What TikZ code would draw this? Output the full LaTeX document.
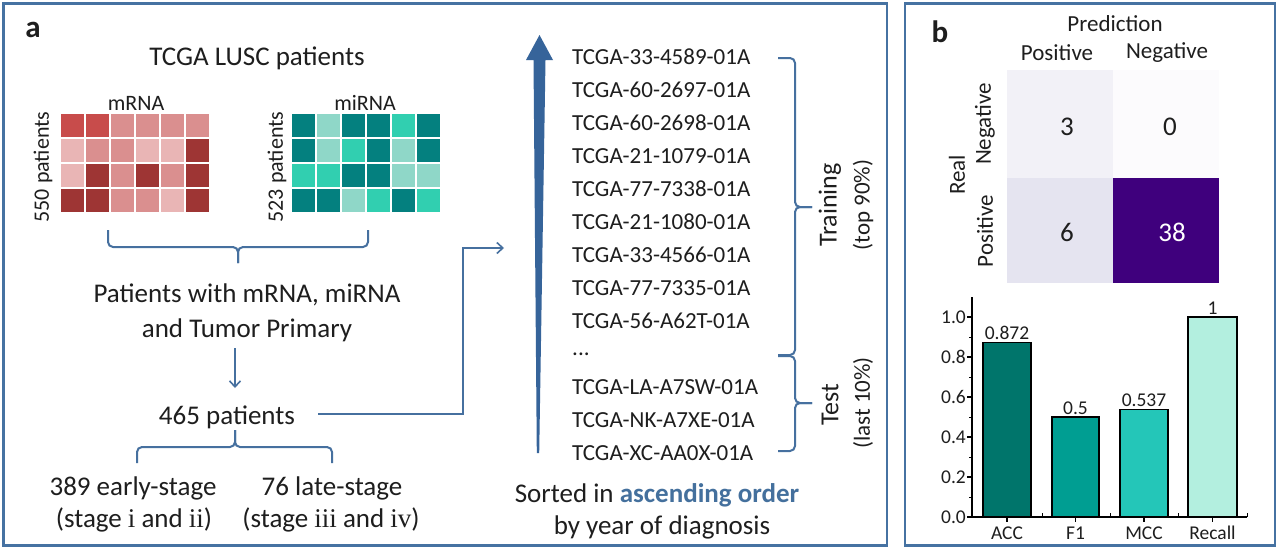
\documentclass[tikz,border=0pt]{standalone}
\usepackage{fontspec}
\setmainfont{Carlito}
\newfontfamily\romfont{Liberation Serif}
\usetikzlibrary{arrows.meta}
\definecolor{framec}{HTML}{4672A2}
\definecolor{linec}{HTML}{46709F}
\definecolor{bigarrow}{HTML}{36649A}
\definecolor{ink}{HTML}{1E1E1E}
\definecolor{bluetxt}{HTML}{44709D}
\definecolor{mC}{HTML}{C84C4B}
\definecolor{mM}{HTML}{DA8F8F}
\definecolor{mL}{HTML}{E9B5B5}
\definecolor{mD}{HTML}{9E3534}
\definecolor{tD}{HTML}{04807F}
\definecolor{tL}{HTML}{8FD7C8}
\definecolor{tT}{HTML}{31CFB0}
\definecolor{cmTL}{HTML}{F2F1F7}
\definecolor{cmTR}{HTML}{FCFBFD}
\definecolor{cmBL}{HTML}{E5E4F0}
\definecolor{cmBR}{HTML}{3F007D}
\definecolor{barA}{HTML}{00756B}
\definecolor{barB}{HTML}{009E92}
\definecolor{barC}{HTML}{24C6B8}
\definecolor{barD}{HTML}{B3EFDF}
\begin{document}
\begin{tikzpicture}[x=1pt,y=-1pt,
  txt/.style={inner sep=0pt, text=ink},
  fbig/.style={font=\fontsize{27}{32}\selectfont},
  fmid/.style={font=\fontsize{23}{28}\selectfont},
  fsmall/.style={font=\fontsize{22}{26}\selectfont},
  ftick/.style={font=\fontsize{19.5}{23}\selectfont},
  flabel/.style={font=\fontsize{31}{36}\selectfont\bfseries},
  panelframe/.style={draw=framec, line width=2.6pt},
  bracec/.style={draw=linec, line width=2pt, rounded corners=5pt},
  flow/.style={draw=linec, line width=2pt, -{Straight Barb[length=6pt,width=11pt,line width=1.6pt]}},
  bar/.style={draw=black, line width=1.3pt},
  axisl/.style={draw=black, line width=1.3pt}
]
\useasboundingbox (0,0) rectangle (1280,552);
\fill[white] (0,0) rectangle (1280,552);

% ---------- panel frames
\draw[panelframe] (3.5,3.5) rectangle (887,545.5);
\draw[panelframe] (905,3.5) rectangle (1275,545.5);
\node[txt, flabel] (la) at (33,30) {a};
\node[txt, flabel] (lb) at (940,32) {b};

% ---------- panel a, left part
\node[txt, fbig] (title) at (257,58) {TCGA LUSC patients};
\node[txt, fsmall] (mrnalab) at (136,103) {mRNA};
\node[txt, fsmall] (mirnalab) at (365,103) {miRNA};
\node[txt, fsmall, rotate=90] (p550) at (43,167) {550 patients};
\node[txt, fsmall, rotate=90] (p523) at (277,167) {523 patients};

\foreach \row [count=\r from 0] in {{C,C,M,M,M,M},{L,M,M,L,L,D},{L,D,M,D,M,D},{D,D,M,M,L,D}} {
  \foreach \c [count=\k from 0] in \row {
    \fill[m\c] (60+25*\k+1, 113+25*\r+1) rectangle ++(23,23);
  }
}
\foreach \row [count=\r from 0] in {{D,L,D,D,T,D},{D,L,T,D,L,D},{T,T,D,D,L,L},{D,D,L,T,D,T}} {
  \foreach \c [count=\k from 0] in \row {
    \fill[t\c] (291+25*\k+1, 113+25*\r+1) rectangle ++(23,23);
  }
}

% brace under heatmaps
\coordinate (b1l) at (108,230);
\coordinate (b1r) at (368,230);
\coordinate (b1m) at (238,247);
\coordinate (b1t) at (238,263);
\draw[bracec] (b1l) |- (b1m) -- (b1t);
\draw[bracec] (b1r) |- (b1m) -- (b1t);

\node[txt, fbig] (pw1) at (247,295) {Patients with mRNA, miRNA};
\node[txt, fbig] (pw2) at (247,330) {and Tumor Primary};

\coordinate (d1) at (235,348);
\coordinate (d2) at (235,388);
\draw[flow] (d1) -- (d2);

\node[txt, fbig] (n465) at (227,417) {465 patients};

% brace under 465
\coordinate (b2t) at (235,430);
\coordinate (b2m) at (235,447);
\coordinate (b2l) at (137,463);
\coordinate (b2r) at (332,463);
\draw[bracec] (b2t) -- (b2m) -| (b2l);
\draw[bracec] (b2t) -- (b2m) -| (b2r);

\node[txt, fbig] (early1) at (133,488) {389 early-stage};
\node[txt, fbig] (early2) at (134,520) {(stage {\romfont i} and {\romfont ii})};
\node[txt, fbig] (late1) at (332,488) {76 late-stage};
\node[txt, fbig] (late2) at (331,520) {(stage {\romfont iii} and {\romfont iv})};

% connector 465 -> list
\coordinate (c0) at (318,414);
\coordinate (c1) at (463,248);
\coordinate (c2) at (504,248);
\draw[flow] (c0) -| (c1) -- (c2);

% big tapered arrow
\fill[bigarrow] (536.8,453) -- (539.2,453) -- (545.5,60) -- (553,60) -- (539.5,35) -- (526,60) -- (533.5,60) -- cycle;

% ---------- ID list
\foreach \id [count=\i from 0] in {TCGA-33-4589-01A,TCGA-60-2697-01A,TCGA-60-2698-01A,TCGA-21-1079-01A,TCGA-77-7338-01A,TCGA-21-1080-01A,TCGA-33-4566-01A,TCGA-77-7335-01A,TCGA-56-A62T-01A} {
  \node[txt, fmid, anchor=west] (id\i) at (572,57+33*\i) {\id};
}
\node[txt, fmid, anchor=west] (iddots) at (572,354) {...};
\foreach \id [count=\i from 10] in {TCGA-LA-A7SW-01A,TCGA-NK-A7XE-01A,TCGA-XC-AA0X-01A} {
  \node[txt, fmid, anchor=west] (id\i) at (572,57+33*\i) {\id};
}

% braces training / test
\coordinate (trt) at (778,58);
\coordinate (trb) at (778,355);
\coordinate (trm) at (795,207);
\coordinate (trtip) at (812,207);
\draw[bracec] (trt) -| (trm) -- (trtip);
\draw[bracec] (trb) -| (trm) -- (trtip);
\coordinate (tet) at (778,356);
\coordinate (teb) at (778,451);
\coordinate (tem) at (795,403);
\coordinate (tetip) at (812,403);
\draw[bracec] (tet) -| (tem) -- (tetip);
\draw[bracec] (teb) -| (tem) -- (tetip);

\node[txt, font=\fontsize{26}{30}\selectfont, rotate=90] (train) at (830,205) {Training};
\node[txt, fmid, rotate=90] (train2) at (863,205) {(top 90\%)};
\node[txt, font=\fontsize{26}{30}\selectfont, rotate=90] (test) at (830,405) {Test};
\node[txt, fmid, rotate=90] (test2) at (863,403) {(last 10\%)};

\node[txt, fbig] (sort1) at (657,495) {Sorted in \textbf{\color{bluetxt}ascending order}};
\node[txt, fbig] (sort2) at (662,527) {by year of diagnosis};

% ---------- panel b: confusion matrix
\fill[cmTL] (1007,70) rectangle (1113,178);
\fill[cmTR] (1113,70) rectangle (1219,178);
\fill[cmBL] (1007,178) rectangle (1113,283);
\fill[cmBR] (1113,178) rectangle (1219,283);
\node[txt, fmid] (pred) at (1115,24) {Prediction};
\node[txt, fmid] (ppos) at (1057,53) {Positive};
\node[txt, fmid] (pneg) at (1167,53) {Negative};
\node[txt, fmid, rotate=90] (rneg) at (985,124) {Negative};
\node[txt, fmid, rotate=90] (rpos) at (985,231) {Positive};
\node[txt, fmid, rotate=90] (real) at (957,175) {Real};
\node[txt, font=\fontsize{27}{30}\selectfont] (v3) at (1067,127) {3};
\node[txt, font=\fontsize{27}{30}\selectfont] (v0) at (1170,127) {0};
\node[txt, font=\fontsize{27}{30}\selectfont] (v6) at (1067,232) {6};
\node[inner sep=0pt, text=white, font=\fontsize{27}{30}\selectfont] (v38) at (1172,232) {38};

% ---------- panel b: bar chart
\draw[bar, fill=barA] (983,517) rectangle (1031,342.6);
\draw[bar, fill=barB] (1052,517) rectangle (1099,417);
\draw[bar, fill=barC] (1120,517) rectangle (1168,409.6);
\draw[bar, fill=barD] (1188,517) rectangle (1237,317);
\coordinate (ax0) at (972,517);
\coordinate (axtop) at (972,297);
\coordinate (axright) at (1247,517);
\draw[axisl] (axtop) -- (ax0) -- (axright);
\foreach \v/\lab in {0/0.0,0.2/0.2,0.4/0.4,0.6/0.6,0.8/0.8,1/1.0} {
  \draw[axisl] (967,517-200*\v) -- (972,517-200*\v);
  \node[txt, ftick, anchor=east] at (966,517-200*\v) {\lab};
}
\foreach \v in {0.1,0.3,0.5,0.7,0.9} {
  \draw[black, line width=1pt] (969,517-200*\v) -- (972,517-200*\v);
}
\foreach \x in {1007,1075.5,1144,1212.5} {
  \draw[black, line width=1.2pt] (\x,517) -- (\x,522);
}
\foreach \x in {1042,1110,1178,1247} {
  \draw[black, line width=1pt] (\x,517) -- (\x,513);
}
\node[txt, ftick, anchor=south] (vacc) at (1007,340) {0.872};
\node[txt, ftick, anchor=south] (vf1) at (1075.5,414.5) {0.5};
\node[txt, ftick, anchor=south] (vmcc) at (1144,407) {0.537};
\node[txt, ftick, anchor=south] (vrec) at (1212.5,314.5) {1};
\node[txt, ftick] (xacc) at (1007,533) {ACC};
\node[txt, ftick] (xf1) at (1075.5,533) {F1};
\node[txt, ftick] (xmcc) at (1144,533) {MCC};
\node[txt, ftick] (xrec) at (1212.5,533) {Recall};
\end{tikzpicture}
\end{document}
